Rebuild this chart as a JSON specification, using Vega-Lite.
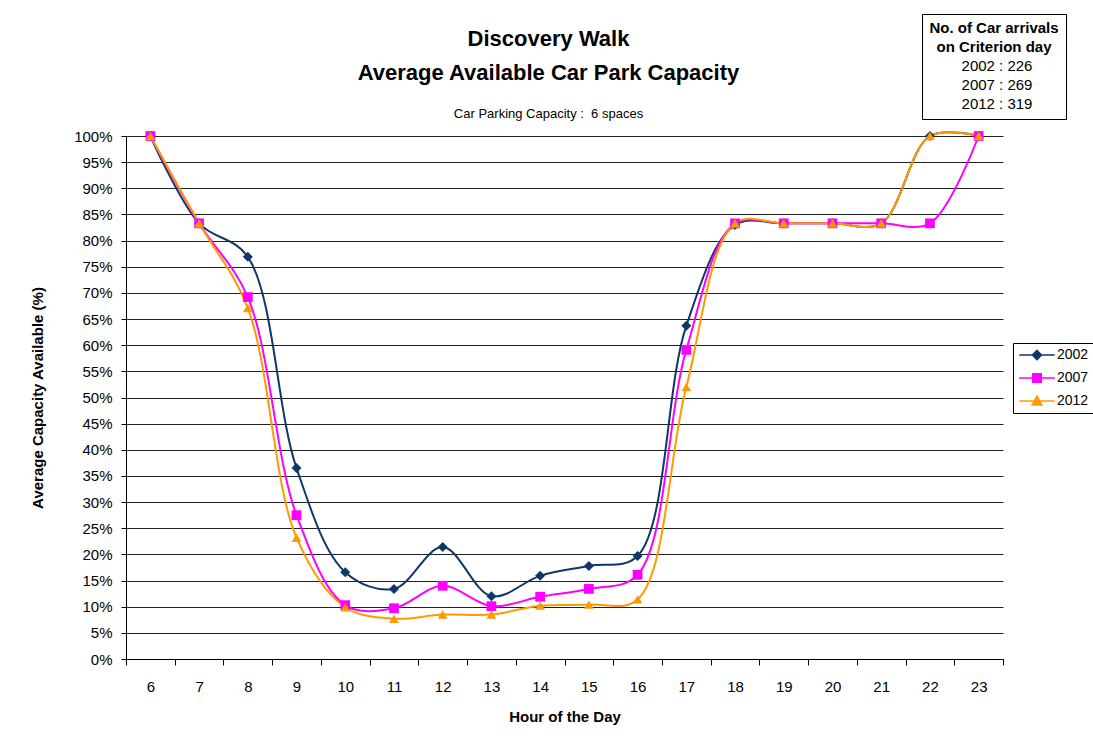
{
  "$schema": "https://vega.github.io/schema/vega-lite/v6.json",
  "width": 877,
  "height": 523,
  "autosize": {"type": "none"},
  "padding": {"left": 126, "top": 136, "right": 90, "bottom": 90},
  "background": "white",
  "config": {
    "font": "Liberation Sans",
    "view": {"stroke": null},
    "axis": {
      "labelFont": "Liberation Sans",
      "titleFont": "Liberation Sans",
      "labelFontSize": 15,
      "titleFontSize": 15,
      "titleFontWeight": "bold",
      "labelColor": "black",
      "titleColor": "black",
      "domainColor": "black",
      "tickColor": "black"
    },
    "legend": {
      "labelFont": "Liberation Sans",
      "titleFont": "Liberation Sans",
      "labelColor": "black",
      "titleColor": "black"
    }
  },
  "title": {
    "text": ["Discovery Walk", "Average Available Car Park Capacity"],
    "subtitle": "Car Parking Capacity :\u00a0 6 spaces",
    "font": "Liberation Sans",
    "fontSize": 22,
    "fontWeight": "bold",
    "lineHeight": 34,
    "color": "black",
    "subtitleFont": "Liberation Sans",
    "subtitleFontSize": 13,
    "subtitleColor": "black",
    "subtitlePadding": 23,
    "anchor": "middle",
    "offset": -108,
    "dx": -16
  },
  "datasets": {
    "capacity": [
      {"hour": 6, "year": "2002", "value": 1.0},
      {"hour": 7, "year": "2002", "value": 0.833},
      {"hour": 8, "year": "2002", "value": 0.769},
      {"hour": 9, "year": "2002", "value": 0.365},
      {"hour": 10, "year": "2002", "value": 0.166},
      {"hour": 11, "year": "2002", "value": 0.134},
      {"hour": 12, "year": "2002", "value": 0.214},
      {"hour": 13, "year": "2002", "value": 0.12},
      {"hour": 14, "year": "2002", "value": 0.159},
      {"hour": 15, "year": "2002", "value": 0.178},
      {"hour": 16, "year": "2002", "value": 0.197},
      {"hour": 17, "year": "2002", "value": 0.637},
      {"hour": 18, "year": "2002", "value": 0.83},
      {"hour": 19, "year": "2002", "value": 0.833},
      {"hour": 20, "year": "2002", "value": 0.833},
      {"hour": 21, "year": "2002", "value": 0.833},
      {"hour": 22, "year": "2002", "value": 1.0},
      {"hour": 23, "year": "2002", "value": 1.0},
      {"hour": 6, "year": "2007", "value": 1.0},
      {"hour": 7, "year": "2007", "value": 0.833},
      {"hour": 8, "year": "2007", "value": 0.692},
      {"hour": 9, "year": "2007", "value": 0.275},
      {"hour": 10, "year": "2007", "value": 0.103},
      {"hour": 11, "year": "2007", "value": 0.097},
      {"hour": 12, "year": "2007", "value": 0.14},
      {"hour": 13, "year": "2007", "value": 0.101},
      {"hour": 14, "year": "2007", "value": 0.119},
      {"hour": 15, "year": "2007", "value": 0.134},
      {"hour": 16, "year": "2007", "value": 0.161},
      {"hour": 17, "year": "2007", "value": 0.591},
      {"hour": 18, "year": "2007", "value": 0.833},
      {"hour": 19, "year": "2007", "value": 0.833},
      {"hour": 20, "year": "2007", "value": 0.833},
      {"hour": 21, "year": "2007", "value": 0.833},
      {"hour": 22, "year": "2007", "value": 0.833},
      {"hour": 23, "year": "2007", "value": 1.0},
      {"hour": 6, "year": "2012", "value": 1.0},
      {"hour": 7, "year": "2012", "value": 0.833},
      {"hour": 8, "year": "2012", "value": 0.671},
      {"hour": 9, "year": "2012", "value": 0.232},
      {"hour": 10, "year": "2012", "value": 0.099},
      {"hour": 11, "year": "2012", "value": 0.077},
      {"hour": 12, "year": "2012", "value": 0.085},
      {"hour": 13, "year": "2012", "value": 0.085},
      {"hour": 14, "year": "2012", "value": 0.102},
      {"hour": 15, "year": "2012", "value": 0.104},
      {"hour": 16, "year": "2012", "value": 0.114},
      {"hour": 17, "year": "2012", "value": 0.52},
      {"hour": 18, "year": "2012", "value": 0.833},
      {"hour": 19, "year": "2012", "value": 0.833},
      {"hour": 20, "year": "2012", "value": 0.833},
      {"hour": 21, "year": "2012", "value": 0.833},
      {"hour": 22, "year": "2012", "value": 1.0},
      {"hour": 23, "year": "2012", "value": 1.0}
    ],
    "arrivals": [
      {"label": "2002 : 226"},
      {"label": "2007 : 269"},
      {"label": "2012 : 319"}
    ]
  },
  "layer": [
    {
      "data": {"name": "capacity"},
      "encoding": {
        "x": {
          "field": "hour",
          "type": "ordinal",
          "sort": "ascending",
          "scale": {"type": "band", "paddingInner": 0, "paddingOuter": 0},
          "axis": {
            "title": "Hour of the Day",
            "labelAngle": 0,
            "tickBand": "extent",
            "tickSize": 6,
            "labelPadding": 14,
            "titlePadding": 15,
            "grid": false
          }
        },
        "y": {
          "field": "value",
          "type": "quantitative",
          "scale": {"domain": [0, 1], "nice": false},
          "axis": {
            "title": "Average Capacity Available (%)",
            "format": ".0%",
            "values": [0, 0.05, 0.1, 0.15, 0.2, 0.25, 0.3, 0.35, 0.4, 0.45, 0.5, 0.55, 0.6, 0.65, 0.7, 0.75, 0.8, 0.85, 0.9, 0.95, 1],
            "labelOverlap": false,
            "tickSize": 5,
            "labelPadding": 9,
            "titlePadding": 28,
            "grid": true,
            "gridColor": "#222222",
            "gridOpacity": 1,
            "gridWidth": 1
          }
        },
        "color": {
          "field": "year",
          "type": "nominal",
          "scale": {"domain": ["2002", "2007", "2012"], "range": ["#0d3868", "#ff00ff", "#ff9900"]},
          "legend": {
            "title": null,
            "orient": "none",
            "legendX": 887,
            "legendY": 207,
            "strokeColor": "black",
            "fillColor": "white",
            "padding": 5,
            "labelFontSize": 14,
            "labelOffset": 13,
            "rowPadding": 7,
            "symbolSize": 150,
            "symbolOffset": 12,
            "encode": {
              "symbols": {
                "update": {
                  "shape": {"signal": "datum.value == '2002' ? 'M-2.9,0H2.9M0,-0.75L0.75,0L0,0.75L-0.75,0Z' : datum.value == '2007' ? 'M-2.9,0H2.9M-0.7,-0.7H0.7V0.7H-0.7Z' : 'M-2.9,0H2.9M0,-0.8L0.8,0.65L-0.8,0.65Z'"},
                  "fill": {"scale": "color", "field": "value"},
                  "stroke": {"scale": "color", "field": "value"},
                  "strokeWidth": {"value": 1.5},
                  "opacity": {"value": 1}
                }
              }
            }
          }
        }
      },
      "layer": [
        {
          "mark": {"type": "line", "interpolate": "catmull-rom", "strokeWidth": 2}
        },
        {
          "transform": [{"filter": {"field": "year", "equal": "2002"}}],
          "mark": {"type": "point", "shape": "diamond", "filled": true, "opacity": 1, "size": 100}
        },
        {
          "transform": [{"filter": {"field": "year", "equal": "2007"}}],
          "mark": {"type": "point", "shape": "square", "filled": true, "opacity": 1, "size": 95}
        },
        {
          "transform": [{"filter": {"field": "year", "equal": "2012"}}],
          "mark": {"type": "point", "shape": "triangle-up", "filled": true, "opacity": 1, "size": 95}
        }
      ]
    },
    {
      "data": {"name": "arrivals"},
      "mark": {"type": "point", "opacity": 0},
      "encoding": {
        "strokeDash": {
          "field": "label",
          "type": "nominal",
          "legend": {
            "title": ["No. of Car arrivals", "on Criterion day"],
            "orient": "none",
            "legendX": 796,
            "legendY": -122,
            "strokeColor": "black",
            "fillColor": "white",
            "padding": 7,
            "titleFontSize": 15,
            "titleFontWeight": "bold",
            "titleLineHeight": 19,
            "titleAnchor": "middle",
            "titleAlign": "center",
            "titlePadding": 3,
            "labelFontSize": 15,
            "labelAlign": "center",
            "labelOffset": 26,
            "symbolSize": 0,
            "symbolOpacity": 0,
            "rowPadding": 3
          }
        }
      }
    }
  ]
}
